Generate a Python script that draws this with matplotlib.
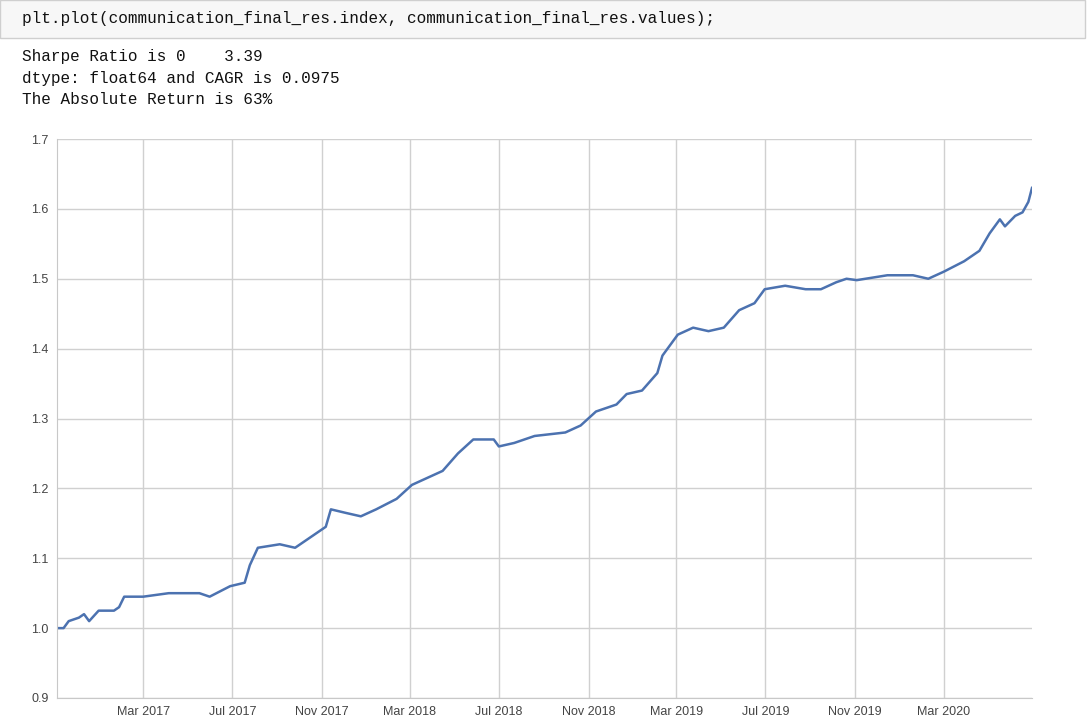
import matplotlib
matplotlib.use("Agg")
import matplotlib.pyplot as plt
import matplotlib.dates as mdates
import pandas as pd
from matplotlib.patches import Rectangle

dates = ["2016-11-03","2016-11-12","2016-11-19","2016-12-03","2016-12-10","2016-12-17","2016-12-30",
         "2017-01-20","2017-01-27","2017-02-03","2017-02-10","2017-03-01","2017-04-05","2017-05-17",
         "2017-05-31","2017-06-28","2017-07-18","2017-07-25","2017-08-05","2017-09-04","2017-09-25",
         "2017-10-02","2017-10-23","2017-11-06","2017-11-13","2017-12-03","2017-12-24","2018-01-14",
         "2018-02-11","2018-03-04","2018-03-25","2018-04-15","2018-05-06","2018-05-27","2018-06-24",
         "2018-07-01","2018-07-22","2018-08-19","2018-09-30","2018-10-21","2018-11-11","2018-12-09",
         "2018-12-23","2019-01-13","2019-02-03","2019-02-10","2019-03-03","2019-03-24","2019-04-14",
         "2019-05-05","2019-05-26","2019-06-16","2019-06-30","2019-07-28","2019-08-25","2019-09-15",
         "2019-10-06","2019-10-20","2019-11-03","2019-12-15","2020-01-19","2020-02-09","2020-03-01",
         "2020-03-29","2020-04-19","2020-05-03","2020-05-17","2020-05-24","2020-06-07","2020-06-17",
         "2020-06-25","2020-06-30"]
values = [1.000,1.000,1.010,1.015,1.020,1.010,1.025,
          1.025,1.030,1.045,1.045,1.045,1.050,1.050,
          1.045,1.060,1.065,1.090,1.115,1.120,1.115,
          1.120,1.135,1.145,1.170,1.165,1.160,1.170,
          1.185,1.205,1.215,1.225,1.250,1.270,1.270,
          1.260,1.265,1.275,1.280,1.290,1.310,1.320,
          1.335,1.340,1.365,1.390,1.420,1.430,1.425,
          1.430,1.455,1.465,1.485,1.490,1.485,1.485,
          1.495,1.500,1.498,1.505,1.505,1.500,1.510,
          1.525,1.540,1.565,1.585,1.575,1.590,1.595,
          1.610,1.630]
yticks = [0.9,1.0,1.1,1.2,1.3,1.4,1.5,1.6,1.7]
ytick_labels = ["0.9","1.0","1.1","1.2","1.3","1.4","1.5","1.6","1.7"]

code_line = "plt.plot(communication_final_res.index, communication_final_res.values);"
out_lines = ["Sharpe Ratio is 0    3.39", "dtype: float64 and CAGR is 0.0975", "The Absolute Return is 63%"]

W, H = 1090, 727
fig = plt.figure(figsize=(10.9, 7.27), dpi=100)
fig.patches.append(Rectangle((0, 1-38/H), 1085/W, 38/H, transform=fig.transFigure,
                             facecolor="#f7f7f7", edgecolor="#cfcfcf", lw=1))
fig.text(22/W, 1-19/H, code_line, family="Liberation Mono", fontsize=11.5, va="center", color="#111")
for i, t in enumerate(out_lines):
    fig.text(22/W, 1-(57+21*i)/H, t, family="Liberation Mono", fontsize=11.5, va="center", color="#111")

ax = fig.add_axes([57/W, 1-698/H, 975/W, 559/H])
x = pd.to_datetime(dates)
ax.plot(x, values, color="#4c72b0", lw=1.8)
ax.set_ylim(0.9, 1.7)
ax.set_yticks(yticks)
ax.set_yticklabels(ytick_labels)
ax.set_xlim(pd.Timestamp("2016-11-03"), pd.Timestamp("2020-06-30"))
ax.xaxis.set_major_locator(mdates.MonthLocator(bymonth=[3, 7, 11]))
ax.xaxis.set_major_formatter(mdates.DateFormatter("%b %Y"))
ax.grid(True, color="#d0d0d0", lw=1)
ax.set_axisbelow(True)
for s in ["top", "right"]:
    ax.spines[s].set_visible(False)
for s in ["left", "bottom"]:
    ax.spines[s].set_color("#c8c8c8")
ax.tick_params(length=0, labelsize=9, colors="#444", pad=6)
for lab in ax.get_xticklabels() + ax.get_yticklabels():
    lab.set_family("Liberation Sans")
fig.savefig("out.png", dpi=100)
